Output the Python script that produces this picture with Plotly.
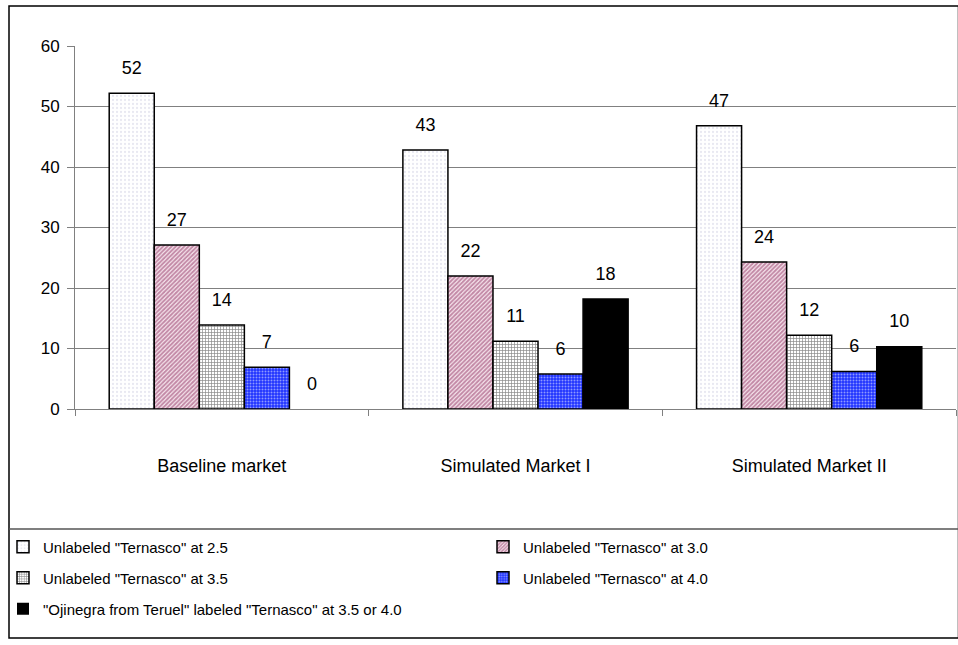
import plotly.graph_objects as go

# ---- data ----
categories = ["Baseline market", "Simulated Market I", "Simulated Market II"]
series_names = [
    'Unlabeled "Ternasco" at 2.5',
    'Unlabeled "Ternasco" at 3.0',
    'Unlabeled "Ternasco" at 3.5',
    'Unlabeled "Ternasco" at 4.0',
    '"Ojinegra from Teruel" labeled "Ternasco" at 3.5 or 4.0',
]
s25 = [52.2, 42.8, 46.8]
s30 = [27.1, 22.0, 24.3]
s35 = [13.9, 11.2, 12.2]
s40 = [6.9, 5.8, 6.2]
ojinegra = [0.0, 18.2, 10.3]
series_values = [s25, s30, s35, s40, ojinegra]

# ---- styles ----
FONT = "Liberation Sans, Arial, sans-serif"
patterns = [
    dict(shape=".", fgcolor="#d2d2e4", bgcolor="#ffffff", size=4, solidity=0.25),
    dict(shape="/", fgcolor="#8a2458", bgcolor="#fbeef4", size=3, solidity=0.65),
    dict(shape="+", fgcolor="#111111", bgcolor="#ffffff", size=3, solidity=0.4),
    dict(shape=".", fgcolor="#ffffff", bgcolor="#1f33ff", size=3, solidity=0.35),
    None,
]
colors = ["#ffffff", "#ffffff", "#ffffff", "#1f33ff", "#000000"]
legend_ids = ["legend", "legend2", "legend3", "legend4", "legend5"]
# legend grid (column, row) of each series
legend_cells = [(0, 0), (1, 0), (0, 1), (1, 1), (0, 2)]

W, H = 958, 645
ML, MR, MT, MB = 75, 2, 46, 236
PW, PH = W - ML - MR, H - MT - MB


def px_x(p):
    return (p - ML) / PW


def px_y(p):
    return (H - MB - p) / PH


fig = go.Figure()
for i, (name, vals) in enumerate(zip(series_names, series_values)):
    marker = dict(color=colors[i],
                  line=dict(color="#000000",
                            width=[1.5 if v > 0 else 0 for v in vals]))
    if patterns[i] is not None:
        marker["pattern"] = patterns[i]
    fig.add_trace(go.Bar(
        x=categories, y=vals, name=name, marker=marker,
        legend=legend_ids[i], hoverinfo="skip",
    ))

for i, vals in enumerate(series_values):
    fig.add_trace(go.Scatter(
        x=categories, y=vals, mode="markers+text",
        text=[f"{round(v):d}" for v in vals],
        textposition="top center",
        textfont=dict(family=FONT, size=18, color="#000000"),
        marker=dict(size=22, opacity=0),
        showlegend=False, hoverinfo="skip", cliponaxis=False,
    ))

col_px = [3, 483]
row_px = [547, 578, 609]
legends = {}
for lid, (c, r) in zip(legend_ids, legend_cells):
    legends[lid] = dict(
        x=px_x(col_px[c]), y=px_y(row_px[r]),
        xanchor="left", yanchor="middle", orientation="h",
        font=dict(family=FONT, size=15, color="#000000"),
        bgcolor="rgba(0,0,0,0)", itemclick=False, itemdoubleclick=False,
    )

fig.update_layout(
    width=W, height=H,
    margin=dict(l=ML, r=MR, t=MT, b=MB),
    paper_bgcolor="#ffffff", plot_bgcolor="#ffffff",
    barmode="group", bargap=0.233, bargroupgap=0,
    scattermode="group", scattergap=0.233,
    font=dict(family=FONT, color="#000000"),
    xaxis=dict(
        showline=True, linecolor="#808080", linewidth=1,
        ticks="outside", tickson="boundaries", ticklen=6, tickcolor="#808080",
        showgrid=False, tickfont=dict(family=FONT, size=18, color="#000000"),
        ticklabelstandoff=40,
    ),
    yaxis=dict(
        range=[0, 60], dtick=10, showgrid=True, gridcolor="#808080", gridwidth=1,
        showline=True, linecolor="#808080", linewidth=1,
        ticks="outside", ticklen=7, tickcolor="#808080",
        tickfont=dict(family=FONT, size=17, color="#000000"),
        zeroline=False, ticklabelstandoff=4,
    ),
    **legends,
)

# outer chart frame and legend separator line
fig.add_shape(type="rect", xref="paper", yref="paper",
              x0=px_x(9), x1=px_x(958.5), y0=px_y(638), y1=px_y(6),
              line=dict(color="#000000", width=1.5), layer="below")
fig.add_shape(type="line", xref="paper", yref="paper",
              x0=px_x(9), x1=px_x(958.5), y0=px_y(529), y1=px_y(529),
              line=dict(color="#555555", width=1.5))

fig.write_html("out.html")
